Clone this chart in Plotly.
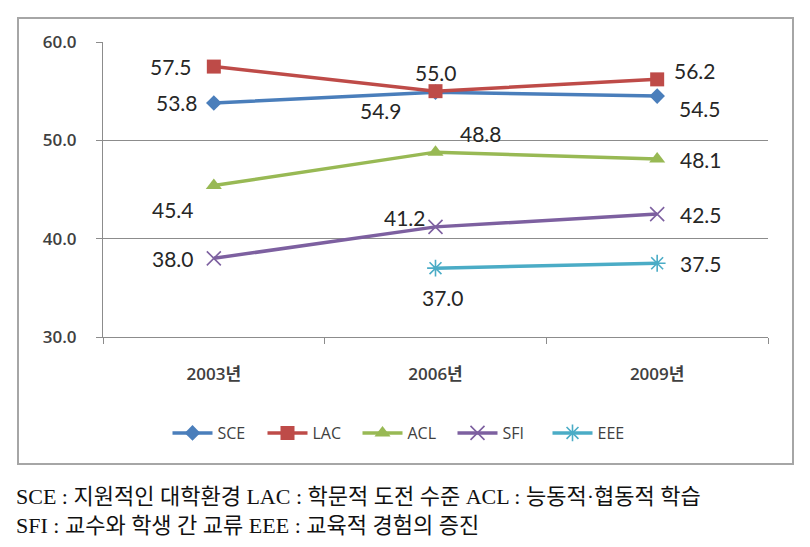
import plotly.graph_objects as go

categories = ["2003년", "2006년", "2009년"]
sce = [53.8, 54.9, 54.5]
lac = [57.5, 55.0, 56.2]
acl = [45.4, 48.8, 48.1]
sfi = [38.0, 41.2, 42.5]
eee_cats = ["2006년", "2009년"]
eee = [37.0, 37.5]
y_ticks = [30, 40, 50, 60]
footnote_1 = "SCE : 지원적인 대학환경 LAC : 학문적 도전 수준 ACL : 능동적·협동적 학습"
footnote_2 = "SFI : 교수와 학생 간 교류 EEE : 교육적 경험의 증진"

OFF = 8  # page body margin
W, H = 810 - 2 * OFF, 547 - 2 * OFF
L, R, T, B = 103 - OFF, 768 - OFF, 42 - OFF, 337 - OFF  # plot area pixel box (figure coords)

series = [
    ("SCE", categories, sce, "#4A7EBB", dict(symbol="diamond", size=12)),
    ("LAC", categories, lac, "#BE4B48", dict(symbol="square", size=14)),
    ("ACL", categories, acl, "#98B954", dict(symbol="triangle-up", size=14)),
    ("SFI", categories, sfi, "#7D60A0", dict(symbol="x-thin", size=14)),
    ("EEE", eee_cats, eee, "#4BACC6", dict(symbol="asterisk", size=14)),
]

fig = go.Figure()
for name, xs, ys, color, mk in series:
    marker = dict(color=color, **mk)
    if mk["symbol"] in ("x-thin", "asterisk"):
        marker["line"] = dict(color=color, width=1.6)
    fig.add_trace(go.Scatter(
        x=xs, y=ys, name=name, mode="lines+markers",
        line=dict(color=color, width=3.5), marker=marker, cliponaxis=False,
    ))

# label offsets (xanchor, xshift, yshift) per series/point
label_style = {
    "SCE": [("right", -14, 0), ("right", -32, -18), ("left", 20, -12)],
    "LAC": [("right", -20, 0), ("center", 0, 19), ("left", 15, 9)],
    "ACL": [("right", -18, -24), ("left", 22, 19), ("left", 21, 0)],
    "SFI": [("right", -18, 0), ("right", -8, 9), ("left", 21, 0)],
    "EEE": [("center", 7, -29), ("left", 21, 0)],
}
label_font = dict(family="Lato, Noto Sans, sans-serif", size=21, color="#262626")
for name, xs, ys, color, mk in series:
    for (xa, xsh, ysh), xv, yv in zip(label_style[name], xs, ys):
        fig.add_annotation(x=xv, y=yv, text=f"{yv:.1f}", showarrow=False,
                           xanchor=xa, yanchor="middle", xshift=xsh, yshift=ysh,
                           font=label_font)

pw, ph = R - L, B - T
def px(x):
    return (x - OFF - L) / pw
def py(y):
    return (B - (y - OFF)) / ph

# outer chart border
fig.add_shape(type="rect", xref="paper", yref="paper",
              x0=px(18), x1=px(793), y0=py(464), y1=py(18),
              line=dict(color="#A6A6A6", width=2), layer="below")

foot_font = dict(family="Liberation Serif, Noto Sans CJK KR, serif", size=22, color="#111111")
fig.add_annotation(xref="paper", yref="paper", x=px(14), y=py(497), text=footnote_1,
                   showarrow=False, xanchor="left", yanchor="middle", font=foot_font)
fig.add_annotation(xref="paper", yref="paper", x=px(14), y=py(525), text=footnote_2,
                   showarrow=False, xanchor="left", yanchor="middle", font=foot_font)

ytick_font = dict(family="Open Sans, sans-serif", size=17, color="#404040", weight=600)
xtick_font = dict(family="Open Sans, Noto Sans CJK KR, sans-serif", size=17, color="#404040", weight=600)
fig.update_layout(
    width=W, height=H, autosize=False,
    margin=dict(l=L, r=W - R, t=T, b=H - B, pad=0),
    paper_bgcolor="white", plot_bgcolor="white",
    showlegend=True,
    legend=dict(orientation="h", xref="container", yref="container",
                x=0.5, xanchor="center", y=1 - (433 - OFF) / H, yanchor="middle",
                font=dict(family="Open Sans, sans-serif", size=16, color="#404040"),
                itemwidth=40, entrywidth=40, tracegroupgap=0),
    xaxis=dict(type="category", categoryorder="array", categoryarray=categories,
               range=[-0.5, 2.5], showline=True, linecolor="#8C8C8C", linewidth=1,
               showgrid=False, ticks="outside", tickson="boundaries", ticklen=6,
               tickcolor="#8C8C8C", tickfont=xtick_font, zeroline=False,
               ticklabelstandoff=22),
    yaxis=dict(range=[30, 60], tickvals=y_ticks, tickformat=".1f",
               showline=True, linecolor="#8C8C8C", linewidth=1,
               showgrid=True, gridcolor="#8C8C8C", gridwidth=1,
               ticks="outside", ticklen=6, tickcolor="#8C8C8C",
               tickfont=ytick_font, zeroline=False, ticklabelstandoff=16),
)

fig.write_html("out.html")
